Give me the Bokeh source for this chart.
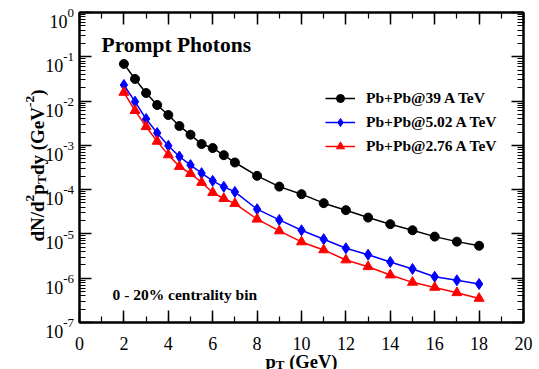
import math
from bokeh.plotting import figure
from bokeh.layouts import row, column
from bokeh.models import (Range1d, LogAxis, LinearAxis, LogTicker, SingleIntervalTicker,
                          CustomJSTickFormatter, Label, Legend, LegendItem)
from bokeh.core.properties import value
from bokeh.embed import file_html
from bokeh.resources import INLINE

# ---------------- data ----------------
PT = [2, 2.5, 3, 3.5, 4, 4.5, 5, 5.5, 6, 6.5, 7, 8, 9, 10, 11, 12, 13, 14, 15, 16, 17, 18]

PBPB_39 = [0.069, 0.0316, 0.0152, 0.00817, 0.00485, 0.00273, 0.00174, 0.00107, 0.00087,
           0.00060, 0.00041, 2.05e-4, 1.17e-4, 7.9e-5, 4.95e-5, 3.44e-5, 2.34e-5, 1.66e-5,
           1.21e-5, 8.7e-6, 6.7e-6, 5.4e-6]
PBPB_502 = [0.0231, 0.0097, 0.00394, 0.0019, 0.00098, 0.00056, 0.000358, 0.000236, 0.000158,
            0.000116, 8.9e-5, 3.62e-5, 2.07e-5, 1.21e-5, 7.6e-6, 4.75e-6, 3.4e-6, 2.33e-6,
            1.62e-6, 1.08e-6, 8.97e-7, 7.4e-7]
PBPB_276 = [0.0157, 0.0061, 0.00264, 0.00123, 0.00061, 0.000333, 0.000231, 0.000145, 8.6e-5,
            6.3e-5, 4.85e-5, 2.15e-5, 1.17e-5, 6.6e-6, 4.35e-6, 2.58e-6, 1.82e-6, 1.18e-6,
            8.07e-7, 6.2e-7, 4.7e-7, 3.5e-7]

SERIES_NAMES = ["Pb+Pb@39 A TeV", "Pb+Pb@5.02 A TeV", "Pb+Pb@2.76 A TeV"]
SERIES_COLORS = ["black", "blue", "red"]
SERIES_MARKERS = ["circle", "diamond", "triangle"]
SERIES_SIZES = [9, 11, 10]

X_TICKS = [0, 2, 4, 6, 8, 10, 12, 14, 16, 18, 20]
X_TICK_LABELS = ["0", "2", "4", "6", "8", "10", "12", "14", "16", "18", "20"]
Y_EXPONENTS = ["-7", "-6", "-5", "-4", "-3", "-2", "-1", "0"]
TITLE = "Prompt Photons"
NOTE = "0 - 20% centrality bin"
# (text, kind, gap-before in em): kind 0 = normal, 1 = superscript, -1 = subscript
Y_LABEL = [("dN/d", 0, 0), ("2", 1, 0), ("p", 0, 0), ("T", -1, 0), ("dy", 0, 0),
           ("(GeV", 0, 0.25), ("-2", 1, 0), (")", 0, 0)]
X_LABEL = [("p", 0, 0), ("T", -1, 0), ("(GeV)", 0, 0.25)]

SERIF = "Liberation Serif"

# ---------------- layout constants ----------------
TOTAL_W, TOTAL_H = 539, 369
LEFT_W = 74                    # full-height strip: y tick labels + y title
MAIN_W = TOTAL_W - LEFT_W
TOP_H = 326                    # main plot height
BOT_H = TOTAL_H - TOP_H        # strip under the plot: x tick labels + x title
B_LEFT, B_RIGHT, B_TOP, B_BOTTOM = 5, 16, 12, 4
FRAME_H = TOP_H - B_TOP - B_BOTTOM
FRAME_W = MAIN_W - B_LEFT - B_RIGHT
X_LO, X_HI = 0, 20
Y_LO, Y_HI = 1e-7, 1.0
DEC = FRAME_H / (math.log10(Y_HI) - math.log10(Y_LO))   # px per decade
XPX = FRAME_W / (X_HI - X_LO)                             # px per x unit

# ---------------- main plot ----------------
p = figure(width=MAIN_W, height=TOP_H, output_backend="svg", toolbar_location=None,
           x_range=Range1d(X_LO, X_HI), y_range=Range1d(Y_LO, Y_HI), y_axis_type="log",
           min_border_left=B_LEFT, min_border_right=B_RIGHT,
           min_border_top=B_TOP, min_border_bottom=B_BOTTOM)
p.frame_align = False
p.xgrid.visible = False
p.ygrid.visible = False
p.outline_line_color = "black"
p.outline_line_width = 2

blank = CustomJSTickFormatter(code="return ''")


def style(ax):
    ax.axis_line_width = 2
    ax.axis_line_color = "black"
    ax.major_tick_in = 12
    ax.major_tick_out = 0
    ax.minor_tick_in = 6
    ax.minor_tick_out = 0
    ax.major_tick_line_width = 1.5
    ax.minor_tick_line_width = 1.2
    ax.major_tick_line_color = "black"
    ax.minor_tick_line_color = "black"
    ax.formatter = blank
    ax.major_label_standoff = 0
    ax.major_label_text_font_size = "0px"


style(p.xaxis[0])
p.xaxis[0].ticker = SingleIntervalTicker(interval=2, num_minor_ticks=2)
style(p.yaxis[0])
p.yaxis[0].ticker = LogTicker(num_minor_ticks=10)

top = LinearAxis(ticker=SingleIntervalTicker(interval=2, num_minor_ticks=2))
style(top)
p.add_layout(top, "above")
right = LogAxis(ticker=LogTicker(num_minor_ticks=10))
style(right)
p.add_layout(right, "right")

items = []
for name, ys, c, m, s in zip(SERIES_NAMES, [PBPB_39, PBPB_502, PBPB_276],
                             SERIES_COLORS, SERIES_MARKERS, SERIES_SIZES):
    rl = p.line(PT, ys, line_color=c, line_width=1.5)
    rs = p.scatter(PT, ys, marker=m, size=s, fill_color=c, line_color=c)
    items.append(LegendItem(label=name, renderers=[rl, rs]))

legend = Legend(items=items, location=(246, 166), padding=0, spacing=4,
                glyph_width=30, glyph_height=20, label_height=20, label_standoff=11,
                label_text_font=SERIF, label_text_font_style="bold",
                label_text_font_size="15.5px", label_text_color="black",
                background_fill_alpha=0, border_line_alpha=0)
p.add_layout(legend)

p.add_layout(Label(x=22, y=278, x_units="screen", y_units="screen", text=TITLE,
                   text_align="left", text_baseline="alphabetic", text_font=SERIF,
                   text_font_style="bold", text_font_size="21.5px", text_color="black"))
p.add_layout(Label(x=33, y=28, x_units="screen", y_units="screen", text=NOTE,
                   text_align="left", text_baseline="alphabetic", text_font=SERIF,
                   text_font_style="bold", text_font_size="15.5px", text_color="black"))

# ---------------- text metrics (Times-compatible) ----------------
W_BOLD = {"d": 556, "N": 722, "/": 278, "p": 556, "T": 667, "y": 500, " ": 250, "(": 333,
          "G": 778, "e": 444, "V": 722, ")": 333, "2": 500, "-": 333}


def wbold(txt, size):
    return sum(W_BOLD[ch] for ch in txt) * size / 1000.0


def wreg(txt, size):
    return sum(333 if ch == "-" else 500 for ch in txt) * size / 1000.0


def strip(width, height, x_range, y_range, y_axis_type="linear"):
    f = figure(width=width, height=height, output_backend="svg", toolbar_location=None,
               title=None, x_range=x_range, y_range=y_range, y_axis_type=y_axis_type,
               x_axis_location=None, y_axis_location=None,
               min_border_left=0, min_border_right=0, min_border_top=0, min_border_bottom=0)
    f.frame_align = False
    f.xgrid.visible = False
    f.ygrid.visible = False
    f.outline_line_color = None
    return f


# ---------------- left strip (full height): y tick labels and y title ----------------
y_end = 10 ** (math.log10(Y_HI) + B_TOP / DEC)
y_start = 10 ** (math.log10(Y_LO) - (TOTAL_H - B_TOP - FRAME_H) / DEC)
left = strip(LEFT_W, TOTAL_H, Range1d(0, LEFT_W), Range1d(y_start, y_end), "log")

RIGHT_EDGE = 73.5
for e in Y_EXPONENTS:
    n = int(e)
    w_sup = wreg(e, 13)
    left.text(x=[RIGHT_EDGE - w_sup], y=[10 ** (n - 9.0 / DEC)], text=["10"],
              text_align="right", text_baseline="alphabetic", text_font=value(SERIF),
              text_font_size="18px", text_color="black")
    left.text(x=[RIGHT_EDGE], y=[10 ** (n - 0.7 / DEC)], text=[e],
              text_align="right", text_baseline="alphabetic", text_font=value(SERIF),
              text_font_size="13px", text_color="black")

# y title, reading bottom -> top, centred on the frame
YMAIN, YSMALL = 19.0, 13.5
total = sum(g * (YMAIN if k == 0 else YSMALL) + wbold(t, YMAIN if k == 0 else YSMALL)
            for t, k, g in Y_LABEL)
center_px = B_TOP + FRAME_H / 2.0 - 2
pos_px = center_px + total / 2.0          # pixel row (from top) where the text starts
BASE_X = 36.7
for t, k, g in Y_LABEL:
    size = YMAIN if k == 0 else YSMALL
    pos_px -= g * size
    xs = BASE_X - (7 if k == 1 else (-4.5 if k == -1 else 0))
    yv = 10 ** (math.log10(Y_HI) - (pos_px - B_TOP) / DEC)
    left.text(x=[xs], y=[yv], text=[t], angle=math.pi / 2, text_align="left",
              text_baseline="alphabetic", text_font=value(SERIF), text_font_style="bold",
              text_font_size=f"{size}px", text_color="black")
    pos_px -= wbold(t, size)

# ---------------- bottom strip: x tick labels and x title ----------------
bx_start = X_LO - B_LEFT / XPX
bx_end = X_HI + B_RIGHT / XPX
bottom = strip(MAIN_W, BOT_H, Range1d(bx_start, bx_end), Range1d(BOT_H, 0))

bottom.text(x=X_TICKS, y=[16.5] * len(X_TICKS), text=X_TICK_LABELS, text_align="center",
            text_baseline="alphabetic", text_font=value(SERIF), text_font_size="18px",
            text_color="black")

XMAIN, XSMALL = 18.5, 13.0
total = sum(g * (XMAIN if k == 0 else XSMALL) + wbold(t, XMAIN if k == 0 else XSMALL)
            for t, k, g in X_LABEL)
pos_px = FRAME_W / 2.0 - total / 2.0      # pixels from the frame's left edge
BASE_Y = 35.0
for t, k, g in X_LABEL:
    size = XMAIN if k == 0 else XSMALL
    pos_px += g * size
    ys = BASE_Y + (3.0 if k == -1 else 0)
    bottom.text(x=[X_LO + pos_px / XPX], y=[ys], text=[t], text_align="left",
                text_baseline="alphabetic", text_font=value(SERIF), text_font_style="bold",
                text_font_size=f"{size}px", text_color="black")
    pos_px += wbold(t, size)

layout = row(left, column(p, bottom, spacing=0), spacing=0)
open("out.html", "w").write(file_html(layout, INLINE))
